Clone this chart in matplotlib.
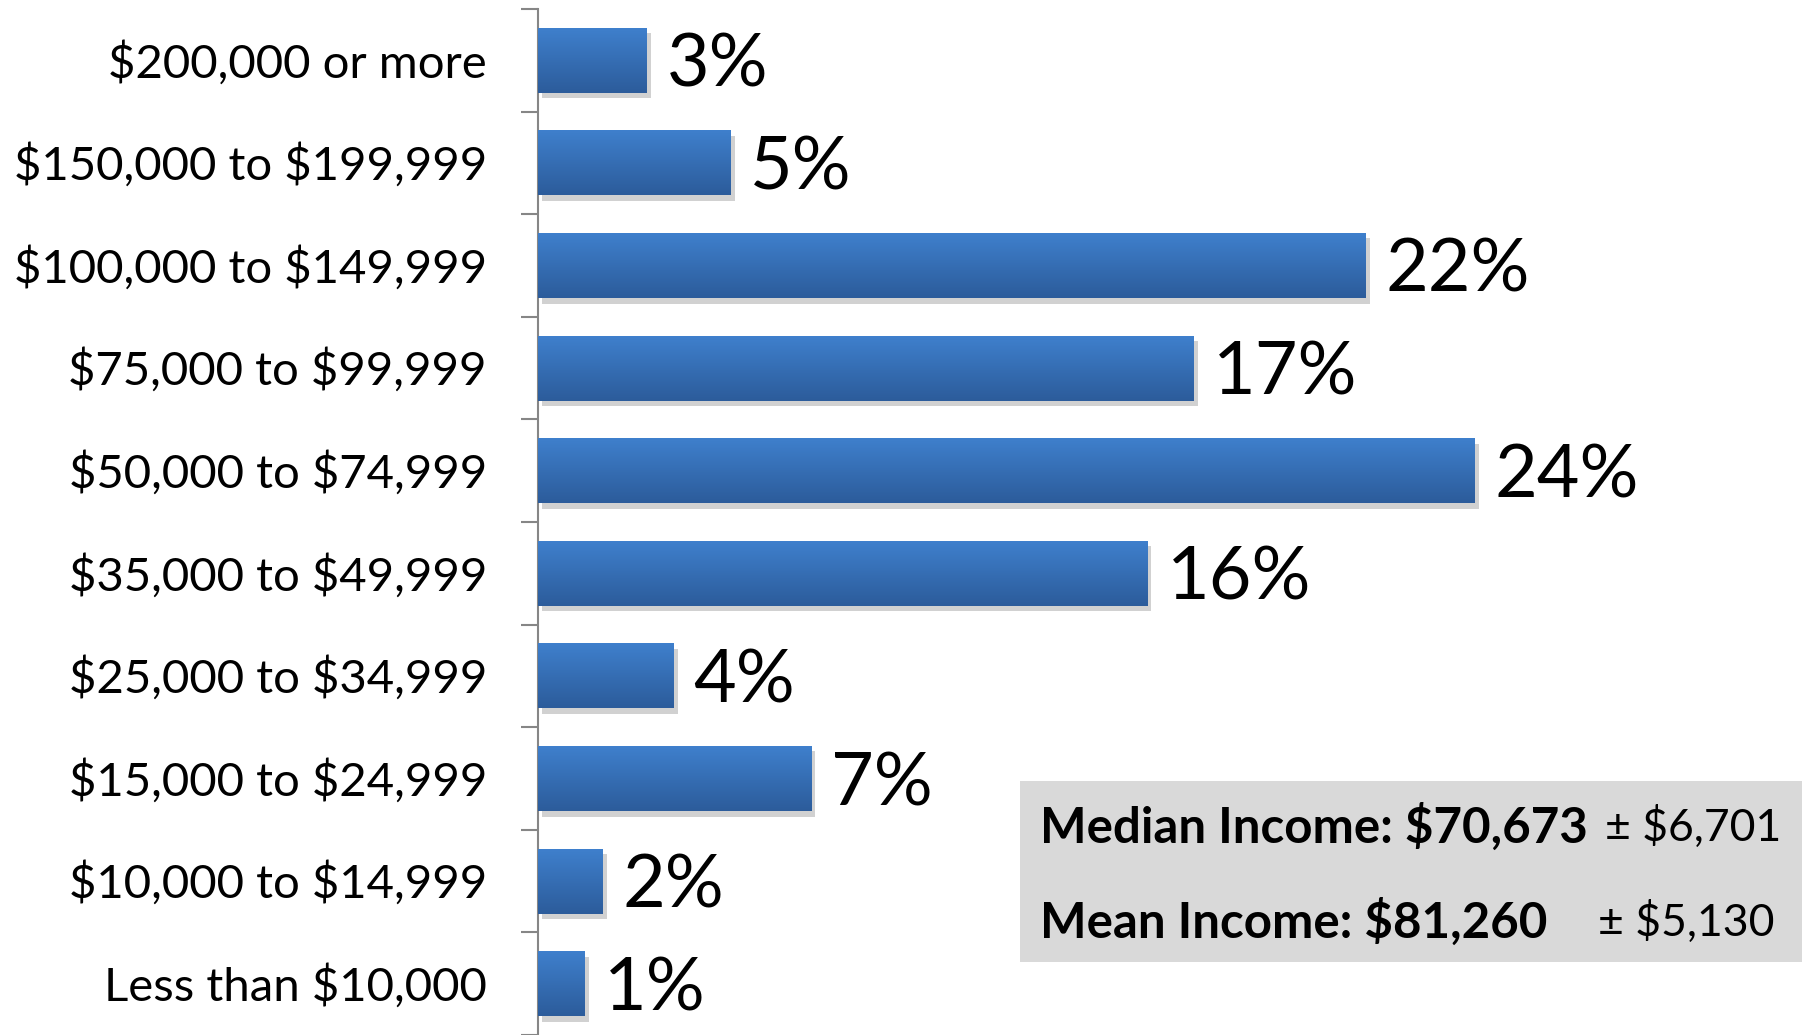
import matplotlib
matplotlib.use("Agg")
import matplotlib.pyplot as plt
import matplotlib.patheffects as pe
import matplotlib.transforms as mtrans
from matplotlib.patches import Rectangle
import numpy as np

plt.rcParams['font.family'] = ['Lato', 'DejaVu Sans']
plt.rcParams['text.parse_math'] = False

# income brackets, bottom to top
categories = ["Less than $10,000", "$10,000 to $14,999", "$15,000 to $24,999",
              "$25,000 to $34,999", "$35,000 to $49,999", "$50,000 to $74,999",
              "$75,000 to $99,999", "$100,000 to $149,999", "$150,000 to $199,999",
              "$200,000 or more"]
# bar lengths (percent)
shares = [1.2, 1.66, 7.0, 3.48, 15.6, 24.0, 16.8, 21.2, 4.94, 2.79]
# printed labels
shareLabels = ["1%", "2%", "7%", "4%", "16%", "24%", "17%", "22%", "5%", "3%"]

medianText = "Median Income: $70,673"
medianErr = "\u00b1 $6,701"
meanText = "Mean Income: $81,260"
meanErr = "\u00b1 $5,130"

fig = plt.figure(figsize=(18.02, 10.35), dpi=100)
ax = fig.add_axes([538 / 1802, 0, 1 - 538 / 1802, 1 - 9 / 1035])

yPos = np.arange(len(categories))
bars = ax.barh(yPos, shares, height=0.635, color="#3569b0", zorder=2,
               path_effects=[pe.SimplePatchShadow(offset=(3, -4), shadow_rgbFace="#999999", alpha=0.45),
                             pe.Normal()])

# vertical gradient inside each bar
grad = np.linspace(0, 1, 64).reshape(-1, 1)
cmap = matplotlib.colors.LinearSegmentedColormap.from_list("barGrad", ["#2c5c9b", "#3f80cd"])
for bar in bars:
    x0, y0 = bar.get_x(), bar.get_y()
    im = ax.imshow(grad, cmap=cmap, aspect="auto", origin="lower",
                   extent=[x0, x0 + bar.get_width(), y0, y0 + bar.get_height()], zorder=3)
    im.set_clip_path(bar)

# percent labels: baseline set half a cap height below bar centre
labTrans = mtrans.offset_copy(ax.transData, fig=fig, x=0, y=-26.5, units="dots")
for bar, lab in zip(bars, shareLabels):
    ax.text(bar.get_width() + 0.5, bar.get_y() + bar.get_height() / 2, lab,
            va="baseline", ha="left", fontsize=53, color="black", zorder=4,
            transform=labTrans)

ax.set_xlim(0, (1802 - 538) / 39.04)
ax.set_ylim(-0.5, len(categories) - 0.5)

# category names, right aligned left of the axis
catTrans = mtrans.offset_copy(ax.get_yaxis_transform(), fig=fig, x=-51, y=-17, units="dots")
for y, cat in zip(yPos, categories):
    ax.text(0, y, cat, ha="right", va="baseline", fontsize=34, transform=catTrans, clip_on=False)

# Excel-style: ticks between categories
ax.set_yticks(np.arange(-0.5, len(categories), 1))
ax.set_yticklabels([])
ax.tick_params(axis="y", which="major", length=12, width=1.5, color="#868686", direction="out")
ax.set_xticks([])
for side in ["top", "right", "bottom"]:
    ax.spines[side].set_visible(False)
ax.spines["left"].set_color("#868686")
ax.spines["left"].set_linewidth(1.5)

# summary box
fig.add_artist(Rectangle((1020 / 1802, 1 - 962 / 1035), 1 - 1020 / 1802, (962 - 781) / 1035,
                         transform=fig.transFigure, facecolor="#d9d9d9", edgecolor="none", zorder=5))
fig.text(1040 / 1802, 1 - 823 / 1035, medianText, fontsize=35.5, fontweight="bold",
         va="center_baseline", ha="left", zorder=6)
fig.text(1781 / 1802, 1 - 823 / 1035, medianErr, fontsize=32, va="center_baseline", ha="right", zorder=6)
fig.text(1040 / 1802, 1 - 918 / 1035, meanText, fontsize=35.5, fontweight="bold",
         va="center_baseline", ha="left", zorder=6)
fig.text(1775 / 1802, 1 - 918 / 1035, meanErr, fontsize=32, va="center_baseline", ha="right", zorder=6)

fig.savefig("out.png", dpi=100)
